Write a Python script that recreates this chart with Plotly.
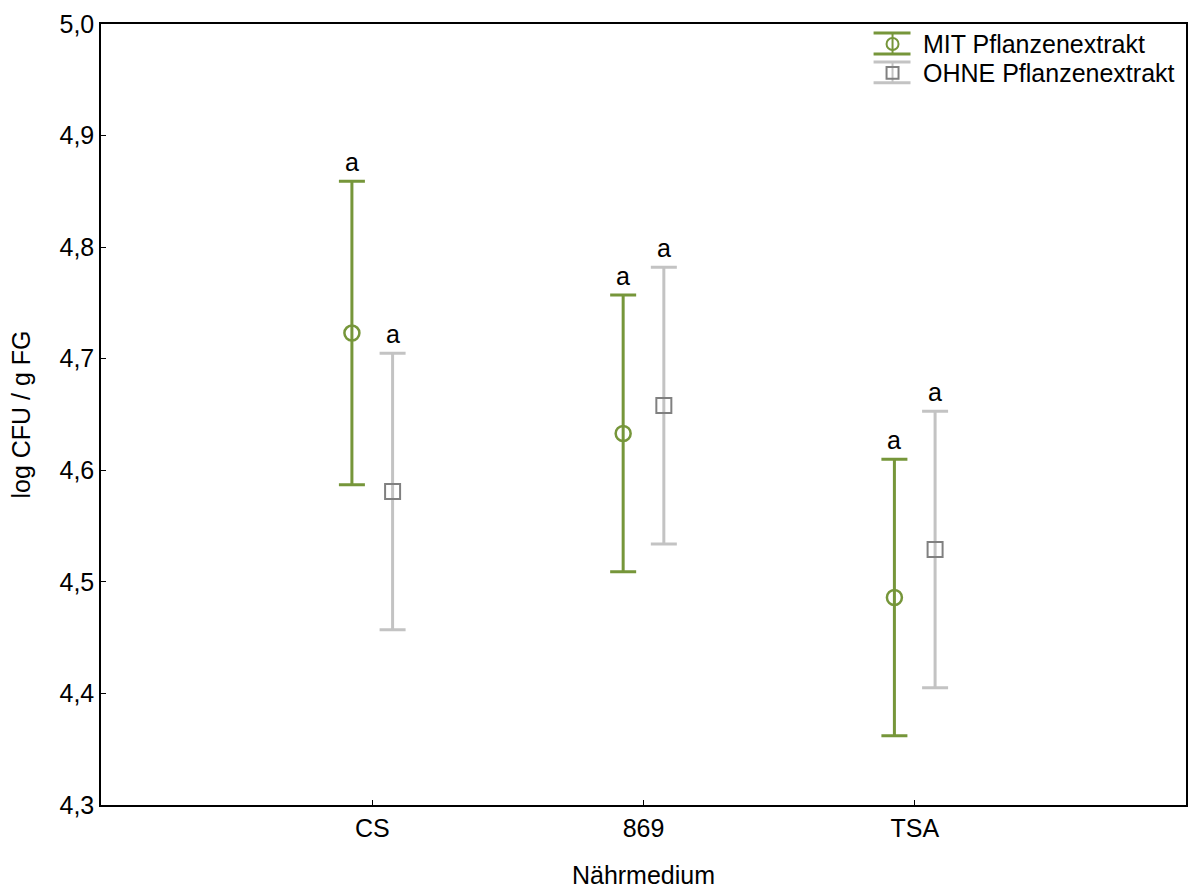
import plotly.graph_objects as go

# Nährmedien and mean log CFU / g FG with confidence half-widths
categories = ["CS", "869", "TSA"]
mit_mean = [4.723, 4.633, 4.486]
mit_ci = [0.136, 0.124, 0.124]
ohne_mean = [4.581, 4.658, 4.529]
ohne_ci = [0.124, 0.124, 0.124]
mit_letters = ["a", "a", "a"]
ohne_letters = ["a", "a", "a"]
series_names = ["MIT Pflanzenextrakt", "OHNE Pflanzenextrakt"]

GREEN = "#76963a"
LIGHT = "#c3c3c3"
DARK = "#808080"
FONT = "Liberation Sans, Arial, sans-serif"
FS = 25

W, H = 1190, 889
ML, MR, MT, MB = 101, 2, 24, 82
PW, PH = W - ML - MR, H - MT - MB
OFFSET = 0.075

base_x = list(range(len(categories)))
mit_x = [x - OFFSET for x in base_x]
ohne_x = [x + OFFSET for x in base_x]

fig = go.Figure()
fig.add_trace(go.Scatter(
    x=mit_x, y=mit_mean, mode="markers", name=series_names[0],
    marker=dict(symbol="circle-open", size=15, color=GREEN, line=dict(width=2.5, color=GREEN)),
    error_y=dict(type="data", array=mit_ci, symmetric=True, color=GREEN, thickness=3, width=13),
    showlegend=False,
))
fig.add_trace(go.Scatter(
    x=ohne_x, y=ohne_mean, mode="markers", name=series_names[1],
    marker=dict(symbol="square-open", size=15, color=DARK, line=dict(width=2, color=DARK)),
    error_y=dict(type="data", array=ohne_ci, symmetric=True, color=LIGHT, thickness=3, width=13),
    showlegend=False,
))

annotations = []
for xs, means, cis, letters in [(mit_x, mit_mean, mit_ci, mit_letters),
                                (ohne_x, ohne_mean, ohne_ci, ohne_letters)]:
    for x, m, c, t in zip(xs, means, cis, letters):
        annotations.append(dict(x=x, y=m + c, text=t, showarrow=False, xref="x", yref="y",
                                yanchor="bottom", yshift=3, font=dict(size=FS, color="black", family=FONT)))


def px(xp):
    return (xp - ML) / PW


def py(yp):
    return (H - MB - yp) / PH


# Legend drawn as error-bar glyphs in the top-right corner
shapes = []
legend_rows = [(44, GREEN, GREEN, "circle"), (73, LIGHT, DARK, "square")]
for (yc, lc, mc, sym), name in zip(legend_rows, series_names):
    for dy in (-11, 10):
        shapes.append(dict(type="line", xref="paper", yref="paper", x0=px(875), x1=px(912),
                           y0=py(yc + dy), y1=py(yc + dy), line=dict(color=lc, width=3)))
    shapes.append(dict(type="line", xref="paper", yref="paper", x0=px(894), x1=px(894),
                       y0=py(yc - 11), y1=py(yc + 10), line=dict(color=lc, width=2)))
    shapes.append(dict(type="circle" if sym == "circle" else "rect", xref="paper", yref="paper",
                       x0=px(888), x1=px(900), y0=py(yc - 6), y1=py(yc + 6),
                       line=dict(color=mc, width=2), fillcolor="rgba(0,0,0,0)"))
    annotations.append(dict(x=px(923), y=py(yc), xref="paper", yref="paper", text=name,
                            showarrow=False, xanchor="left", yanchor="middle",
                            font=dict(size=FS, color="black", family=FONT)))

fig.update_layout(
    width=W, height=H,
    margin=dict(l=ML, r=MR, t=MT, b=MB),
    paper_bgcolor="white", plot_bgcolor="white",
    separators=",.",
    font=dict(family=FONT, size=FS, color="black"),
    annotations=annotations, shapes=shapes,
    xaxis=dict(range=[-1, 3], tickvals=base_x, ticktext=categories,
               ticks="inside", ticklen=5, tickcolor="black", showgrid=False, zeroline=False,
               showline=True, linecolor="black", linewidth=1.5, mirror=True,
               title=dict(text="Nährmedium", standoff=28, font=dict(size=FS))),
    yaxis=dict(range=[4.3, 5.0], dtick=0.1, tickformat=".1f",
               ticks="inside", ticklen=5, tickcolor="black", showgrid=False, zeroline=False,
               showline=True, linecolor="black", linewidth=1.5, mirror=True,
               title=dict(text="log CFU / g FG", standoff=22, font=dict(size=FS))),
)

fig.write_html("out.html")
